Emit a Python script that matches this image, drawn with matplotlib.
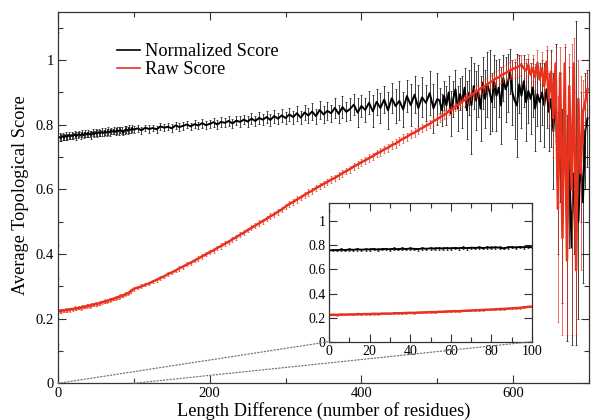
import numpy as np
import matplotlib
matplotlib.use('Agg')
import matplotlib.pyplot as plt
from matplotlib.patches import ConnectionPatch
from matplotlib.ticker import MultipleLocator, FormatStrFormatter

plt.rcParams['font.family'] = ['Liberation Serif', 'DejaVu Serif']

# length difference grid: fine near zero (inset), coarser in the middle, fine in the noisy tail
length_diff = np.concatenate([np.arange(0, 101, 2),
                              np.arange(105, 501, 5),
                              np.arange(503, 699, 3)])

# --- normalized score (black) ---
norm_a = [0.758, 0.762, 0.760, 0.765, 0.761, 0.766, 0.763, 0.768, 0.764, 0.767,
          0.766, 0.770, 0.765, 0.769, 0.771, 0.767, 0.772, 0.768, 0.773, 0.770,
          0.774, 0.771, 0.769, 0.775, 0.772, 0.776, 0.773, 0.777, 0.774, 0.778,
          0.775, 0.779, 0.776, 0.780, 0.777, 0.781, 0.779, 0.782, 0.778, 0.783,
          0.780, 0.784, 0.781, 0.776, 0.783, 0.786, 0.782, 0.787, 0.784, 0.788,
          0.785]
norm_b = [0.789, 0.783, 0.791, 0.787, 0.790, 0.786, 0.795, 0.791, 0.794, 0.789,
          0.798, 0.793, 0.797, 0.801, 0.795, 0.802, 0.798, 0.805, 0.799, 0.803,
          0.808, 0.801, 0.809, 0.806, 0.812, 0.804, 0.813, 0.809, 0.816, 0.810,
          0.819, 0.812, 0.821, 0.816, 0.824, 0.815, 0.827, 0.819, 0.829, 0.821,
          0.832, 0.824, 0.836, 0.822, 0.838, 0.829, 0.841, 0.827, 0.846, 0.832,
          0.843, 0.836, 0.852, 0.834, 0.855, 0.840, 0.849, 0.862, 0.838, 0.858,
          0.846, 0.868, 0.842, 0.871, 0.852, 0.878, 0.845, 0.882, 0.858, 0.874,
          0.848, 0.889, 0.861, 0.893, 0.852, 0.885, 0.868, 0.898, 0.851, 0.880]
norm_c = [0.875, 0.845, 0.890, 0.860, 0.900, 0.835, 0.880, 0.910, 0.850, 0.895,
          0.870, 0.915, 0.845, 0.900, 0.860, 0.920, 0.875, 0.905, 0.850, 0.930,
          0.880, 0.925, 0.900, 0.870, 0.935, 0.890, 0.915, 0.860, 0.945, 0.910,
          0.930, 0.965, 0.900, 0.875, 0.860, 0.925, 0.890, 0.935, 0.870, 0.905,
          0.880, 0.915, 0.850, 0.895, 0.870, 0.900, 0.860, 0.910, 0.840, 0.880,
          0.780, 0.900, 0.620, 0.760, 0.550, 0.840, 0.480, 0.700, 0.420, 0.650,
          0.620, 0.500, 0.700, 0.560, 0.780, 0.820]

norm_err_a = [0.33, 0.012, 0.010, 0.011, 0.009, 0.012, 0.010, 0.011, 0.009, 0.012,
              0.010, 0.011, 0.012, 0.009, 0.010, 0.012, 0.011, 0.010, 0.012, 0.009,
              0.011, 0.010, 0.012, 0.011, 0.009, 0.010, 0.012, 0.011, 0.010, 0.012,
              0.009, 0.011, 0.010, 0.012, 0.011, 0.010, 0.009, 0.012, 0.011, 0.010,
              0.012, 0.010, 0.011, 0.009, 0.012, 0.010, 0.011, 0.012, 0.010, 0.011,
              0.010]
norm_err_b = [0.010, 0.011, 0.009, 0.012, 0.010, 0.011, 0.012, 0.010, 0.011, 0.012,
              0.011, 0.012, 0.013, 0.011, 0.012, 0.013, 0.012, 0.014, 0.012, 0.013,
              0.014, 0.013, 0.015, 0.014, 0.016, 0.014, 0.015, 0.017, 0.015, 0.016,
              0.017, 0.016, 0.018, 0.017, 0.019, 0.018, 0.020, 0.018, 0.021, 0.019,
              0.021, 0.020, 0.023, 0.021, 0.024, 0.022, 0.026, 0.023, 0.027, 0.025,
              0.028, 0.026, 0.031, 0.027, 0.033, 0.029, 0.035, 0.032, 0.045, 0.034,
              0.038, 0.036, 0.050, 0.040, 0.046, 0.043, 0.058, 0.047, 0.052, 0.060,
              0.055, 0.050, 0.064, 0.058, 0.070, 0.062, 0.056, 0.068, 0.075, 0.080]
norm_err_c = [0.04, 0.05, 0.045, 0.06, 0.05, 0.07, 0.055, 0.06, 0.07, 0.05,
              0.08, 0.06, 0.09, 0.07, 0.15, 0.07, 0.09, 0.08, 0.10, 0.08,
              0.09, 0.10, 0.13, 0.09, 0.08, 0.11, 0.09, 0.12, 0.07, 0.10,
              0.09, 0.07, 0.10, 0.12, 0.16, 0.09, 0.10, 0.08, 0.12, 0.10,
              0.11, 0.09, 0.13, 0.10, 0.12, 0.10, 0.13, 0.12, 0.12, 0.15,
              0.18, 0.15, 0.22, 0.20, 0.30, 0.20, 0.35, 0.28, 0.30, 0.25,
              0.50, 0.30, 0.20, 0.25, 0.18, 0.15]

# --- raw score (red) ---
raw_a = [0.222, 0.224, 0.223, 0.226, 0.225, 0.227, 0.226, 0.229, 0.228, 0.230,
         0.229, 0.232, 0.231, 0.233, 0.234, 0.233, 0.236, 0.237, 0.236, 0.239,
         0.240, 0.239, 0.242, 0.243, 0.244, 0.246, 0.245, 0.248, 0.249, 0.251,
         0.252, 0.254, 0.253, 0.256, 0.258, 0.259, 0.261, 0.262, 0.264, 0.266,
         0.267, 0.269, 0.271, 0.272, 0.275, 0.277, 0.279, 0.281, 0.286, 0.289,
         0.292]
raw_b = [0.296, 0.300, 0.305, 0.309, 0.315, 0.320, 0.326, 0.331, 0.338, 0.343,
         0.349, 0.356, 0.361, 0.368, 0.373, 0.380, 0.386, 0.393, 0.399, 0.406,
         0.411, 0.419, 0.425, 0.432, 0.438, 0.446, 0.452, 0.460, 0.466, 0.474,
         0.481, 0.488, 0.495, 0.502, 0.509, 0.517, 0.523, 0.531, 0.538, 0.547,
         0.555, 0.561, 0.569, 0.575, 0.583, 0.590, 0.596, 0.604, 0.610, 0.617,
         0.623, 0.630, 0.636, 0.643, 0.650, 0.657, 0.663, 0.671, 0.677, 0.684,
         0.690, 0.697, 0.703, 0.711, 0.716, 0.724, 0.729, 0.737, 0.742, 0.750,
         0.757, 0.763, 0.771, 0.776, 0.784, 0.790, 0.797, 0.803, 0.811, 0.818]
raw_c = [0.822, 0.826, 0.831, 0.835, 0.842, 0.846, 0.850, 0.857, 0.861, 0.866,
         0.872, 0.876, 0.883, 0.887, 0.893, 0.897, 0.903, 0.906, 0.913, 0.916,
         0.921, 0.926, 0.930, 0.934, 0.940, 0.944, 0.947, 0.953, 0.957, 0.960,
         0.965, 0.968, 0.972, 0.975, 0.978, 0.982, 0.985, 0.975, 0.968, 0.985,
         0.955, 0.975, 0.948, 0.990, 0.940, 0.975, 0.920, 0.995, 0.880, 0.965,
         0.820, 0.990, 0.540, 0.960, 0.450, 0.990, 0.380, 0.920, 0.600, 0.990,
         0.350, 0.880, 0.650, 0.840, 0.870, 0.910]

raw_err_a = [0.10, 0.005, 0.006, 0.005, 0.004, 0.006, 0.005, 0.005, 0.006, 0.004,
             0.005, 0.006, 0.005, 0.004, 0.005, 0.006, 0.005, 0.005, 0.004, 0.006,
             0.005, 0.005, 0.006, 0.004, 0.005, 0.006, 0.005, 0.005, 0.006, 0.005,
             0.004, 0.006, 0.005, 0.005, 0.006, 0.005, 0.004, 0.005, 0.006, 0.005,
             0.005, 0.006, 0.004, 0.005, 0.006, 0.005, 0.005, 0.006, 0.005, 0.004,
             0.006]
raw_err_b = [0.005, 0.006, 0.005, 0.006, 0.005, 0.006, 0.006, 0.005, 0.006, 0.006,
             0.006, 0.007, 0.006, 0.006, 0.007, 0.006, 0.007, 0.007, 0.006, 0.007,
             0.007, 0.007, 0.008, 0.007, 0.007, 0.008, 0.007, 0.008, 0.008, 0.007,
             0.008, 0.008, 0.009, 0.008, 0.008, 0.009, 0.008, 0.009, 0.009, 0.008,
             0.009, 0.009, 0.010, 0.009, 0.009, 0.010, 0.009, 0.010, 0.010, 0.010,
             0.010, 0.011, 0.010, 0.010, 0.011, 0.010, 0.011, 0.011, 0.011, 0.011,
             0.011, 0.012, 0.011, 0.012, 0.012, 0.011, 0.012, 0.012, 0.013, 0.012,
             0.013, 0.012, 0.013, 0.013, 0.012, 0.013, 0.014, 0.013, 0.014, 0.014]
raw_err_c = [0.012, 0.012, 0.012, 0.013, 0.013, 0.013, 0.014, 0.014, 0.014, 0.015,
             0.015, 0.015, 0.016, 0.016, 0.017, 0.017, 0.018, 0.018, 0.019, 0.019,
             0.02, 0.02, 0.02, 0.02, 0.022, 0.022, 0.022, 0.025, 0.025, 0.025,
             0.025, 0.025, 0.03, 0.03, 0.03, 0.03, 0.03, 0.03, 0.035, 0.035,
             0.035, 0.04, 0.04, 0.04, 0.045, 0.05, 0.06, 0.05, 0.08, 0.06,
             0.12, 0.05, 0.35, 0.08, 0.30, 0.06, 0.23, 0.10, 0.45, 0.08,
             0.20, 0.12, 0.30, 0.10, 0.08, 0.06]

norm_score = np.concatenate([norm_a, norm_b, norm_c])
norm_err = np.concatenate([norm_err_a, norm_err_b, norm_err_c])
raw_score = np.concatenate([raw_a, raw_b, raw_c])
raw_err = np.concatenate([raw_err_a, raw_err_b, raw_err_c])

BLACK = 'black'
RED = '#e8321e'
SPINE = '#333333'


def DrawScores(ax):
    ax.errorbar(length_diff, norm_score, yerr=norm_err, fmt='none', ecolor=BLACK,
                elinewidth=0.7, capsize=0.8, capthick=0.6, alpha=0.75)
    ax.plot(length_diff, norm_score, color=BLACK, lw=1.4, label='Normalized Score')
    ax.errorbar(length_diff, raw_score, yerr=raw_err, fmt='none', ecolor=RED,
                elinewidth=0.7, capsize=0.8, capthick=0.6, alpha=0.7)
    ax.plot(length_diff, raw_score, color=RED, lw=1.8, label='Raw Score')


def StyleAxes(ax, labelsize, pad):
    for s in ax.spines.values():
        s.set_color(SPINE)
        s.set_linewidth(0.9)
    ax.tick_params(which='both', direction='in', top=True, right=True,
                   color=SPINE, width=0.8, labelsize=labelsize, pad=pad)
    ax.tick_params(which='major', length=6)
    ax.tick_params(which='minor', length=3.5)
    ax.yaxis.set_major_formatter(FormatStrFormatter('%g'))


W, H = 592, 420
fig = plt.figure(figsize=(W / 100, H / 100), dpi=100)

ax = fig.add_axes([58 / W, (H - 383.3) / H, 531 / W, 371.6 / H])
DrawScores(ax)
ax.set_xlim(0, 700)
ax.set_ylim(0, 1.15)
ax.xaxis.set_major_locator(MultipleLocator(200))
ax.xaxis.set_minor_locator(MultipleLocator(100))
ax.yaxis.set_major_locator(MultipleLocator(0.2))
ax.yaxis.set_minor_locator(MultipleLocator(0.1))
StyleAxes(ax, 10.5, 3)

leg = ax.legend(loc='upper left', bbox_to_anchor=(117 / W, 1 - 43 / H),
                bbox_transform=fig.transFigure, frameon=False, fontsize=13.2,
                handlelength=1.25, handletextpad=0.28, borderpad=0,
                borderaxespad=0, labelspacing=0.08)
for line in leg.get_lines():
    line.set_linewidth(1.2)

fig.text(324 / W, 4 / H, 'Length Difference (number of residues)',
         ha='center', va='baseline', fontsize=13.2)
fig.text(25 / W, (H - 195.5) / H, 'Average Topological Score', rotation=90,
         rotation_mode='anchor', ha='center', va='baseline', fontsize=13.2)

# inset: zoom on the first 100 residues
axin = fig.add_axes([329 / W, (H - 341.7) / H, 203 / W, 138.4 / H])
axin.set_facecolor('white')
DrawScores(axin)
axin.set_xlim(0, 100)
axin.set_ylim(0, 1.15)
axin.xaxis.set_major_locator(MultipleLocator(20))
axin.xaxis.set_minor_locator(MultipleLocator(10))
axin.yaxis.set_major_locator(MultipleLocator(0.2))
StyleAxes(axin, 10, 2.5)

for xv in (0, 100):
    con = ConnectionPatch(xyA=(xv, 0), coordsA=ax.transData,
                          xyB=(xv, 0), coordsB=axin.transData,
                          linestyle=':', color='0.45', lw=0.9)
    fig.add_artist(con)

fig.savefig('out.png', dpi=100)
